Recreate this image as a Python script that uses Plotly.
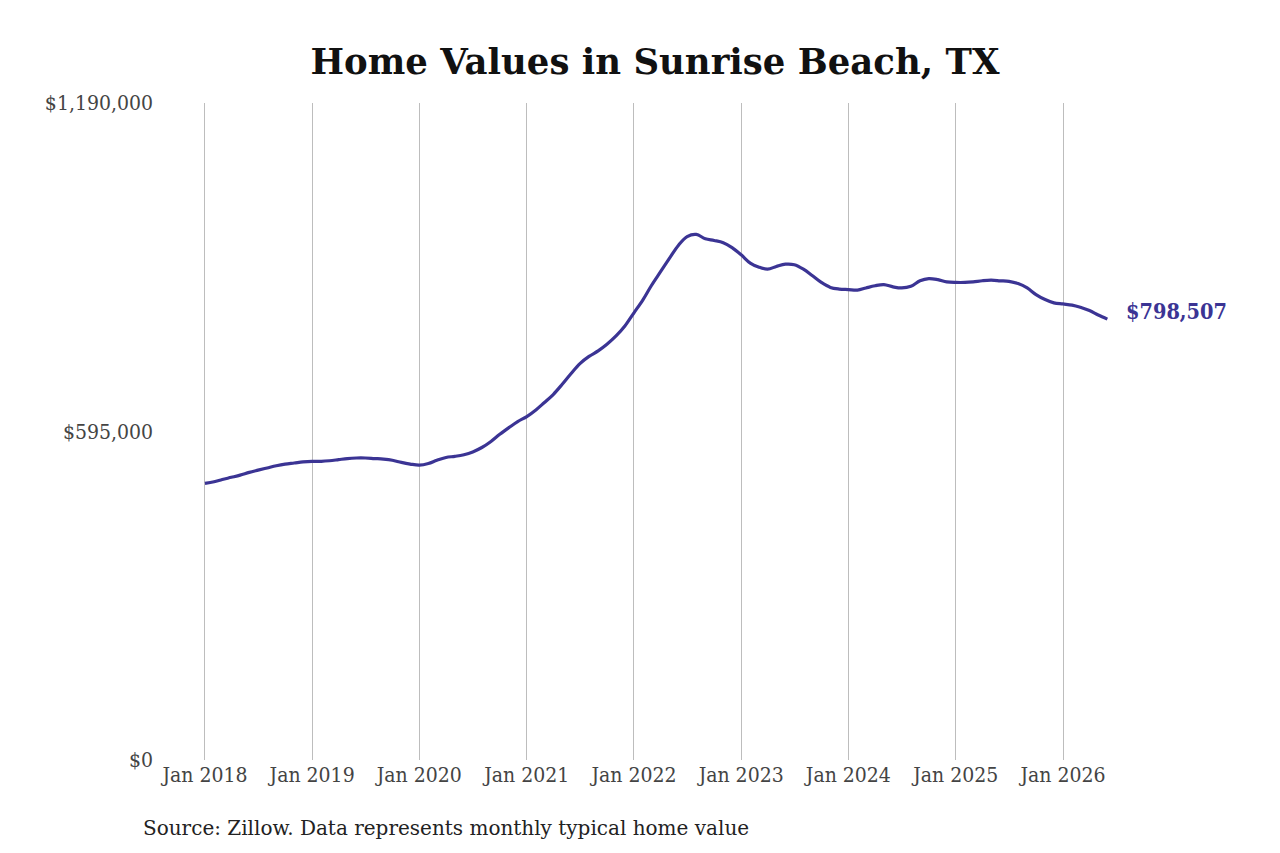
import plotly.graph_objects as go

# monthly typical home value, Jan 2018 - Jun 2026
months = [f"{y}-{m:02d}-01" for y in range(2018, 2027) for m in range(1, 13)][:102]
values = [
    501000, 504000, 508000, 512000, 516000, 521000, 525000, 529000, 533000, 536000, 538000, 540000,
    541000, 541000, 542000, 544000, 546000, 547000, 547000, 546000, 545000, 543000, 539000, 536000,
    534000, 537000, 543000, 548000, 550000, 553000, 558000, 566000, 577000, 590000, 602000, 613000,
    622000, 634000, 647000, 662000, 680000, 700000, 718000, 731000, 741000, 753000, 768000, 786000,
    810000, 834000, 859000, 884000, 908000, 932000, 948000, 952000, 944000, 941000, 937000, 928000,
    915000, 900000, 893000, 889000, 894000, 898000, 897000, 889000, 877000, 865000, 856000, 853000,
    852000, 851000, 855000, 859000, 861000, 857000, 855000, 858000, 868000, 872000, 870000, 866000,
    865000, 865000, 866000, 868000, 869000, 868000, 867000, 863000, 855000, 843000, 834000, 828000,
    826000, 824000, 820000, 814000, 806000, 798507,
]
y_ticks = [0, 595000, 1190000]
y_labels = ["$0", "$595,000", "$1,190,000"]
x_ticks = [f"{y}-01-01" for y in range(2018, 2027)]

LINE = "#3b3494"
SERIF = "DejaVu Serif Condensed, DejaVu Serif, serif"

fig = go.Figure()
fig.add_trace(go.Scatter(
    x=months, y=values, mode="lines", line=dict(color=LINE, width=3.2, shape="spline"),
    showlegend=False, hoverinfo="x+y",
))

# end-of-line value label
fig.add_annotation(
    x=months[-1], y=values[-1], text=f"<b>${values[-1]:,}</b>", showarrow=False,
    xanchor="left", xshift=17, yshift=8, font=dict(family=SERIF, size=21.5, color=LINE),
)
# source note below the axis (paper coords relative to plot area 950x657)
fig.add_annotation(
    x=(141 - 160) / 950, y=(760 - 828) / 657, xref="paper", yref="paper",
    text="Source: Zillow. Data represents monthly typical home value",
    showarrow=False, xanchor="left", yanchor="middle",
    font=dict(family="DejaVu Serif", size=20, color="#222"),
)

fig.update_layout(
    width=1280, height=853,
    paper_bgcolor="white", plot_bgcolor="white",
    margin=dict(l=152, r=178, t=95, b=101),
    title=dict(text="<b>Home Values in Sunrise Beach, TX</b>", x=647 / 1280, xanchor="center",
               y=1 - 54 / 853, yanchor="middle", font=dict(family="DejaVu Serif", size=35.5, color="#111")),
    xaxis=dict(
        range=["2017-08-01", "2026-06-10"], tickvals=x_ticks, tickformat="%b %Y",
        showgrid=True, gridcolor="#bdbdbd", gridwidth=1, zeroline=False, showline=False,
        ticks="", tickfont=dict(family=SERIF, size=21, color="#444"), ticklabelstandoff=0,
    ),
    yaxis=dict(
        range=[0, 1190000], tickvals=y_ticks, ticktext=y_labels, showgrid=False,
        zeroline=False, showline=False, ticks="", ticklabelstandoff=6,
        tickfont=dict(family=SERIF, size=21, color="#444"),
    ),
)

fig.write_html("out.html")
